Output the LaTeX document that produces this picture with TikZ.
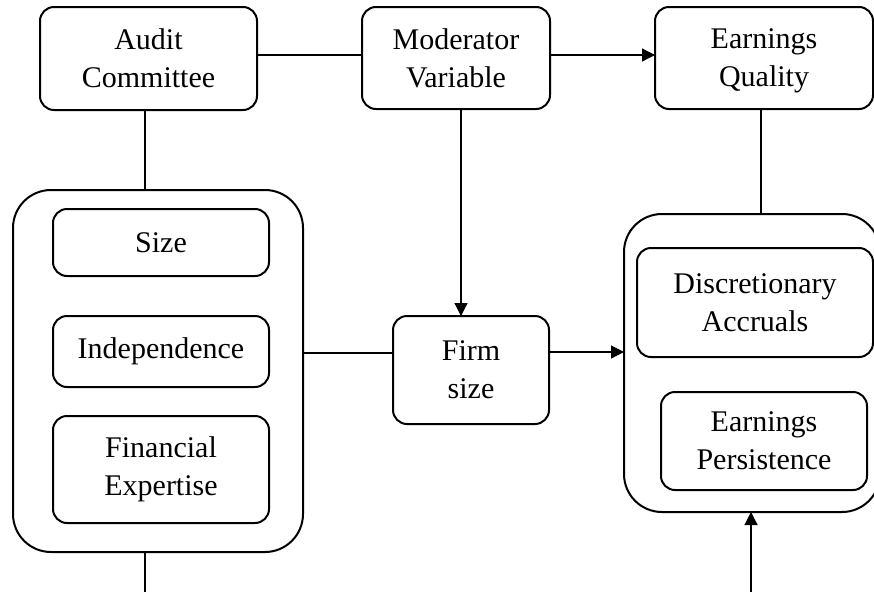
\documentclass[tikz,border=0pt]{standalone}
\usepackage{fontspec}
\setmainfont{Liberation Serif}
\usetikzlibrary{arrows.meta,calc}
\begin{document}
\begin{tikzpicture}[x=1pt,y=-1pt,
  box/.style={draw, line width=2pt, rounded corners=14pt, align=center,
    font=\fontsize{30}{38}\selectfont, inner sep=0pt, outer sep=0pt},
  bigbox/.style={draw, line width=2pt, rounded corners=38pt, inner sep=0pt, outer sep=0pt},
  conn/.style={line width=1.2pt},
  arr/.style={line width=1.2pt, -{Triangle[length=13pt,width=13pt]}}]
\clip (0,0) rectangle (874,592);
\fill[white] (0,0) rectangle (874,592);
% top row
\node[box, minimum width=217pt, minimum height=103pt] (audit) at (148.5,58.5) {Audit\\Committee};
\node[box, minimum width=188pt, minimum height=102pt] (mod) at (456,58) {Moderator\\Variable};
\node[box, minimum width=218pt, minimum height=102pt, text depth=0pt] (eq) at (764,58) {Earnings\\Quality};
% left group
\node[bigbox, minimum width=290pt, minimum height=362pt] (left) at (158,371) {};
\node[box, minimum width=216pt, minimum height=67pt] (size) at (161,242.5) {Size};
\node[box, minimum width=216pt, minimum height=71pt] (indep) at (161,351.5) {Independence};
\node[box, minimum width=216pt, minimum height=107pt] (fin) at (161,469.5) {Financial\\Expertise};
% middle
\node[box, minimum width=156pt, minimum height=108pt] (firm) at (471,370) {Firm\\size};
% right group
\node[bigbox, minimum width=256pt, minimum height=298pt] (right) at (752,363) {};
\node[box, minimum width=236pt, minimum height=109pt] (disc) at (755,302.5) {Discretionary\\Accruals};
\node[box, minimum width=206pt, minimum height=98pt] (pers) at (764,441) {Earnings\\Persistence};
% helper coordinates
\coordinate (ty) at (0,55);
\coordinate (ax) at (145,0);
\coordinate (ly) at (0,353);
\coordinate (mx) at (461,0);
\coordinate (fy) at (0,352);
\coordinate (ex) at (761,0);
\coordinate (bl) at (145,592);
\coordinate (br) at (751,592);
% connectors
\draw[conn] (audit.east |- ty) -- (mod.west |- ty);
\draw[arr] (mod.east |- ty) -- (eq.west |- ty);
\draw[conn] (audit.south -| ax) -- (left.north -| ax);
\draw[conn] (left.south -| bl) -- (bl);
\draw[conn] (left.east |- ly) -- (firm.west |- ly);
\draw[arr] (mod.south -| mx) -- (firm.north -| mx);
\draw[arr] (firm.east |- fy) -- (right.west |- fy);
\draw[conn] (eq.south -| ex) -- (right.north -| ex);
\draw[arr] (br) -- (right.south -| br);
\end{tikzpicture}
\end{document}
